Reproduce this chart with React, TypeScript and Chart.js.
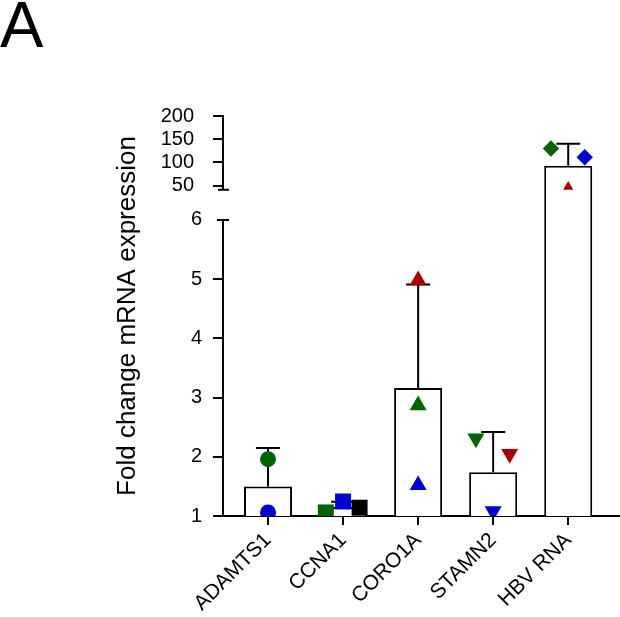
import React, { useEffect, useRef } from 'react';
import { Chart, registerables } from 'chart.js';

Chart.register(...registerables);

// ---------- data ----------
const categories = ['ADAMTS1', 'CCNA1', 'CORO1A', 'STAMN2', 'HBV RNA'];
const meanValues = [1.5, 1.15, 3.16, 1.74, 93];
const meanPlusSD = [2.15, 1.24, 4.91, 2.42, 140];
const replicateGreen = [1.96, 1.06, 2.87, 2.31, 130];
const replicateBlue = [1.06, 1.245, 1.52, 1.08, 111];
const replicateThird = [null, 1.14, 4.98, 2.05, 39];
const lowerTicks = [1, 2, 3, 4, 5, 6];
const upperTicks = [50, 100, 150, 200];

// ---------- broken axis definition ----------
const LOWER_MIN = 1;
const LOWER_MAX = 6;
const UPPER_MIN = 41.4;
const UPPER_MAX = 200;
const GAP = 0.512; // gap between segments (display units)
const UPPER_SCALE = 0.00784; // display units per upper-segment unit

const toDisplay = (v: number) =>
  v <= LOWER_MAX ? v : LOWER_MAX + GAP + (v - UPPER_MIN) * UPPER_SCALE;

// ---------- styles ----------
const GREEN = '#006400';
const BLUE = '#0000cc';
const RED = '#a80000';
const BLACK = '#000000';
const FONT = '"Liberation Sans", Arial, Helvetica, sans-serif';
const Y_TICK_SIZE = 20;
const X_TICK_SIZE = 21;
const TITLE_SIZE = 26;
const TICK_LEN = 10;
const LOWER_LABEL_GAP = 11;
const UPPER_LABEL_GAP = 19;

const shapeOf = ['circle', 'rect', 'triangle', 'triangle', 'rectRot'];
const rotationOf = [0, 0, 0, 180, 0];
const radiusOf: Record<string, number> = { circle: 8, rect: 11.3, triangle: 9.8, rectRot: 8.2 };

const jitterGreen = [0, -0.23, 0, -0.23, -0.23];
const jitterBlue = [0, 0, 0, 0, 0.22];
const jitterThird = [0, 0.22, 0, 0.22, 0];
const thirdColor = [BLACK, BLACK, RED, RED, RED];
const thirdShape = ['circle', 'rect', 'triangle', 'triangle', 'triangle'];

type Rep = { values: (number | null)[]; jitter: number[]; colors: string[]; shapes: string[] };
const replicates: Rep[] = [
  { values: replicateGreen, jitter: jitterGreen, colors: categories.map(() => GREEN), shapes: shapeOf },
  { values: replicateBlue, jitter: jitterBlue, colors: categories.map(() => BLUE), shapes: shapeOf },
  { values: replicateThird, jitter: jitterThird, colors: thirdColor, shapes: thirdShape },
];

function buildPointDatasets() {
  const out: any[] = [];
  const segments: { name: string; idx: number[] }[] = [
    { name: 'lower', idx: [0, 1, 2, 3] },
    { name: 'upper', idx: [4] },
  ];
  segments.forEach((seg) => {
    replicates.forEach((rep) => {
      const pts: any[] = [];
      const colors: string[] = [];
      const styles: string[] = [];
      const radii: number[] = [];
      const rots: number[] = [];
      seg.idx.forEach((i) => {
        const v = rep.values[i];
        if (v === null || v === undefined) return;
        pts.push({ x: i + rep.jitter[i], y: toDisplay(v) });
        colors.push(rep.colors[i]);
        styles.push(rep.shapes[i]);
        radii.push(radiusOf[rep.shapes[i]]);
        rots.push(rotationOf[i]);
      });
      out.push({
        type: 'scatter',
        segment: seg.name,
        data: pts,
        pointStyle: styles,
        pointRadius: radii,
        pointHoverRadius: radii,
        pointRotation: rots,
        pointBackgroundColor: colors,
        pointBorderColor: colors,
        pointBorderWidth: 0,
        showLine: false,
        clip: false,
        order: 0,
      });
    });
  });
  return out;
}

function measureWidest(labels: string[], size: number) {
  const c = document.createElement('canvas').getContext('2d');
  if (!c) return 0;
  c.font = `${size}px ${FONT}`;
  return Math.max(...labels.map((l) => c.measureText(l).width));
}

const segmentClipPlugin = {
  id: 'segmentClip',
  beforeDatasetDraw(chart: any, args: any) {
    const ds = chart.data.datasets[args.index];
    if (!ds.segment) return;
    const y = chart.scales.y;
    const ctx = chart.ctx;
    let top: number, bottom: number;
    if (ds.segment === 'lower') {
      top = y.getPixelForValue(LOWER_MAX) - 2;
      bottom = chart.chartArea.bottom;
    } else {
      top = 0;
      bottom = y.getPixelForValue(toDisplay(UPPER_MIN));
    }
    ctx.save();
    ctx.beginPath();
    ctx.rect(0, top, chart.width, bottom - top);
    ctx.clip();
  },
  afterDatasetDraw(chart: any, args: any) {
    const ds = chart.data.datasets[args.index];
    if (ds.segment) chart.ctx.restore();
  },
};

const errorBarPlugin = {
  id: 'errorBars',
  afterDatasetDraw(chart: any, args: any) {
    if (args.meta.type !== 'bar') return;
    const x = chart.scales.x;
    const y = chart.scales.y;
    const ctx = chart.ctx;
    ctx.save();
    ctx.strokeStyle = '#000';
    ctx.lineWidth = 2;
    ctx.lineCap = 'butt';
    categories.forEach((_, i) => {
      const px = x.getPixelForValue(i);
      const pm = y.getPixelForValue(toDisplay(meanValues[i]));
      const pt = y.getPixelForValue(toDisplay(meanPlusSD[i]));
      ctx.beginPath();
      ctx.moveTo(px, pm);
      ctx.lineTo(px, pt);
      ctx.moveTo(px - 12, pt);
      ctx.lineTo(px + 12, pt);
      ctx.stroke();
    });
    ctx.restore();
  },
};

const brokenAxisPlugin = {
  id: 'brokenAxis',
  beforeDatasetsDraw(chart: any) {
    const y = chart.scales.y;
    const ctx = chart.ctx;
    const x0 = chart.chartArea.left;
    const lowBottom = y.getPixelForValue(LOWER_MIN);
    const lowTop = y.getPixelForValue(LOWER_MAX);
    const upBottom = y.getPixelForValue(toDisplay(UPPER_MIN));
    const upTop = y.getPixelForValue(toDisplay(UPPER_MAX));
    ctx.save();
    ctx.strokeStyle = '#000';
    ctx.lineWidth = 2;
    ctx.beginPath();
    ctx.moveTo(x0, lowBottom + 1);
    ctx.lineTo(x0, lowTop);
    ctx.moveTo(x0, upBottom);
    ctx.lineTo(x0, upTop - 1);
    ctx.moveTo(x0 - 6, lowTop);
    ctx.lineTo(x0 + 6, lowTop);
    ctx.moveTo(x0 - 5, upBottom);
    ctx.lineTo(x0 + 6, upBottom);
    ctx.stroke();
    ctx.restore();
  },
};

const panelLabelPlugin = {
  id: 'panelLabel',
  afterDraw(chart: any) {
    const ctx = chart.ctx;
    ctx.save();
    ctx.fillStyle = '#000';
    ctx.font = `65px ${FONT}`;
    ctx.textAlign = 'left';
    ctx.textBaseline = 'alphabetic';
    ctx.fillText('A', 0, 47);
    ctx.restore();
  },
};

const PAD_LEFT = 108;
const PAD_TOP = 116;
const AXIS_X = 223;

export default function App() {
  const canvasRef = useRef<HTMLCanvasElement | null>(null);

  useEffect(() => {
    if (!canvasRef.current) return;
    const yMax = toDisplay(UPPER_MAX);
    const upperLabels = upperTicks.map(String);
    const upperWidest = measureWidest(upperLabels, Y_TICK_SIZE);
    const chart = new Chart(canvasRef.current, {
      type: 'bar',
      data: {
        datasets: [
          {
            type: 'bar',
            data: categories.map((_, i) => ({ x: i, y: toDisplay(meanValues[i]) })),
            backgroundColor: '#ffffff',
            borderColor: '#000000',
            borderWidth: 2,
            borderSkipped: 'start',
            categoryPercentage: 1,
            barPercentage: 0.64,
            order: 1,
          } as any,
          ...buildPointDatasets(),
        ],
      },
      options: {
        animation: false,
        responsive: true,
        maintainAspectRatio: false,
        devicePixelRatio: 1,
        layout: { autoPadding: false, padding: { left: PAD_LEFT, top: PAD_TOP, right: 0, bottom: 0 } },
        plugins: {
          legend: { display: false },
          tooltip: { enabled: false },
          title: { display: false },
        },
        events: [],
        scales: {
          x: {
            type: 'linear',
            offset: false,
            min: -0.6,
            max: 4.69,
            afterBuildTicks: (s: any) => {
              s.ticks = categories.map((_, i) => ({ value: i }));
            },
            afterFit: (s: any) => {
              s.height = 101;
              s.paddingLeft = 0;
              s.paddingRight = 0;
            },
            ticks: {
              callback: (v: any) => categories[v as number],
              minRotation: 45,
              maxRotation: 45,
              autoSkip: false,
              padding: 3,
              color: '#000',
              font: { family: FONT, size: X_TICK_SIZE },
            },
            grid: { offset: false, drawOnChartArea: false, color: '#000', lineWidth: 2, tickLength: 9 },
            border: { color: '#000', width: 2 },
          },
          y: {
            type: 'linear',
            position: 'left',
            weight: 1,
            min: LOWER_MIN,
            max: yMax,
            afterBuildTicks: (s: any) => {
              s.ticks = lowerTicks.map((v) => ({ value: v }));
            },
            afterFit: (s: any) => {
              s.width = AXIS_X - PAD_LEFT;
            },
            ticks: {
              callback: (_v: any, i: number) => String(lowerTicks[i]),
              autoSkip: false,
              padding: LOWER_LABEL_GAP,
              color: '#000',
              font: { family: FONT, size: Y_TICK_SIZE },
            },
            grid: {
              drawOnChartArea: false,
              color: (c: any) => (c.tick && c.tick.value === LOWER_MAX ? 'rgba(0,0,0,0)' : '#000'),
              lineWidth: 2,
              tickLength: TICK_LEN,
            },
            border: { display: false },
            title: {
              display: true,
              text: 'Fold change mRNA expression',
              color: '#000',
              font: { family: FONT, size: TITLE_SIZE },
              padding: { top: 4, bottom: 4 },
            },
          },
          yTop: {
            type: 'linear',
            position: 'left',
            weight: 0,
            min: LOWER_MIN,
            max: yMax,
            afterBuildTicks: (s: any) => {
              s.ticks = upperTicks.map((v) => ({ value: toDisplay(v) }));
            },
            afterFit: (s: any) => {
              s.width = 0;
            },
            ticks: {
              callback: (_v: any, i: number) => upperLabels[i],
              autoSkip: false,
              mirror: true,
              crossAlign: 'far',
              padding: -(TICK_LEN + UPPER_LABEL_GAP) - upperWidest,
              color: '#000',
              font: { family: FONT, size: Y_TICK_SIZE },
            },
            grid: { drawOnChartArea: false, color: '#000', lineWidth: 2, tickLength: TICK_LEN },
            border: { display: false },
          },
        } as any,
      },
      plugins: [segmentClipPlugin, errorBarPlugin, brokenAxisPlugin, panelLabelPlugin],
    } as any);
    return () => chart.destroy();
  }, []);

  return (
    <div style={{ position: 'fixed', left: 0, top: 0, width: 620, height: 617, background: '#fff' }}>
      <canvas ref={canvasRef} />
    </div>
  );
}
